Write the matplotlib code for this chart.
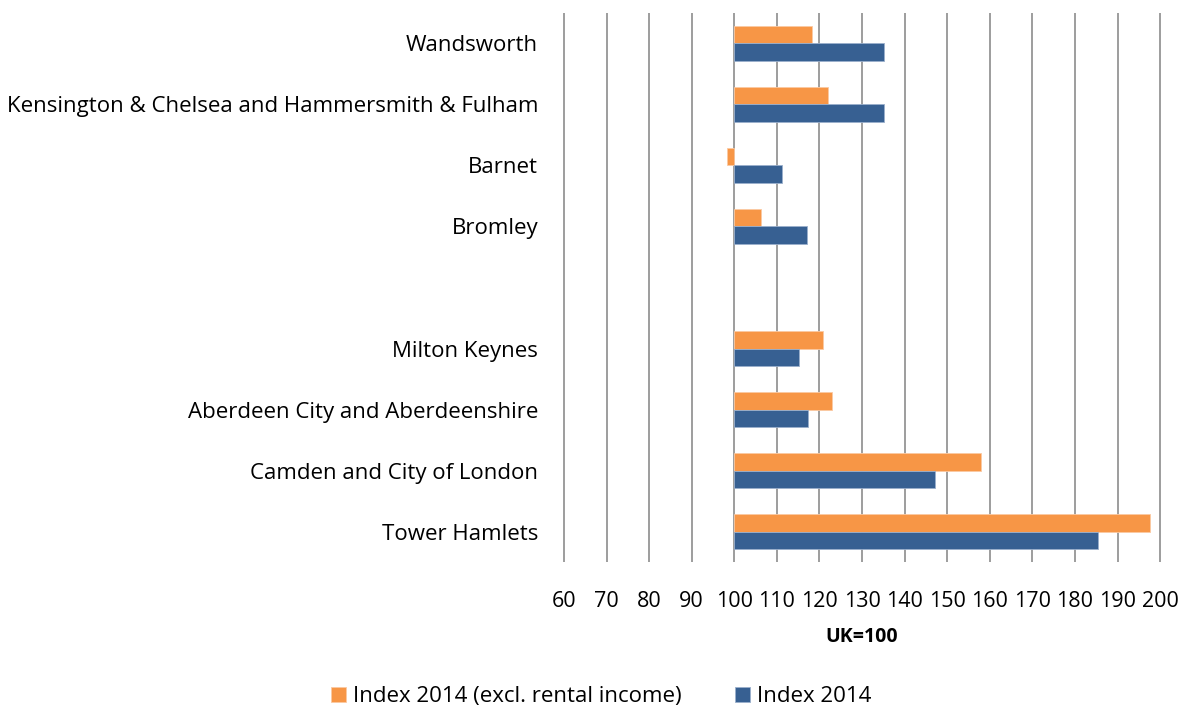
import numpy as np
import matplotlib.pyplot as plt

# areas, top to bottom; empty string is the gap between the two groups
areas = ["Wandsworth",
         "Kensington & Chelsea and Hammersmith & Fulham",
         "Barnet",
         "Bromley",
         "",
         "Milton Keynes",
         "Aberdeen City and Aberdeenshire",
         "Camden and City of London",
         "Tower Hamlets"]
index_excl_rent = [118.3, 121.9, 98.3, 106.2, np.nan, 120.9, 123.0, 157.9, 197.7]
index_2014 = [135.1, 135.1, 111.1, 117.1, np.nan, 115.2, 117.4, 147.1, 185.3]
ticks = np.arange(60, 201, 10)
base = 100

plt.rcParams['font.family'] = ['Open Sans', 'DejaVu Sans']

fig = plt.figure(figsize=(11.83, 7.09), dpi=100)
ax = fig.add_axes([0.4760, 0.2073, 0.5054, 0.7744])

y = np.arange(len(areas))
h = 0.29
orange = np.array(index_excl_rent)
blue = np.array(index_2014)
ax.barh(y - h/2, orange - base, left=base, height=h, color='#F79646',
        edgecolor='#FBC9A3', lw=0.6, label='Index 2014 (excl. rental income)', zorder=3)
ax.barh(y + h/2, blue - base, left=base, height=h, color='#376092',
        edgecolor='#9BB0CC', lw=0.6, label='Index 2014', zorder=3)

ax.set_xlim(59.8, 200.2)
ax.set_ylim(len(areas) - 0.5, -0.5)
ax.set_xticks(ticks)
ax.set_xticklabels([str(t) for t in ticks], fontsize=15.5)
ax.set_yticks(y)
ax.set_yticklabels(areas, fontsize=16)
ax.tick_params(axis='x', length=0, pad=21)
ax.tick_params(axis='y', length=0, pad=18)
for t in ticks:
    ax.axvline(t, color='#8C8C8C', lw=1.2, zorder=1)
for s in ax.spines.values():
    s.set_visible(False)

ax.set_xlabel('UK=100', fontsize=14, fontweight='bold', labelpad=11)

handles, labels = ax.get_legend_handles_labels()
fig.legend(handles, labels, loc='center', bbox_to_anchor=(0.508, 0.017), ncol=2,
           frameon=False, fontsize=16, handlelength=0.7, handleheight=0.7,
           handletextpad=0.3, columnspacing=2.4)

fig.savefig('out.png', dpi=100)
